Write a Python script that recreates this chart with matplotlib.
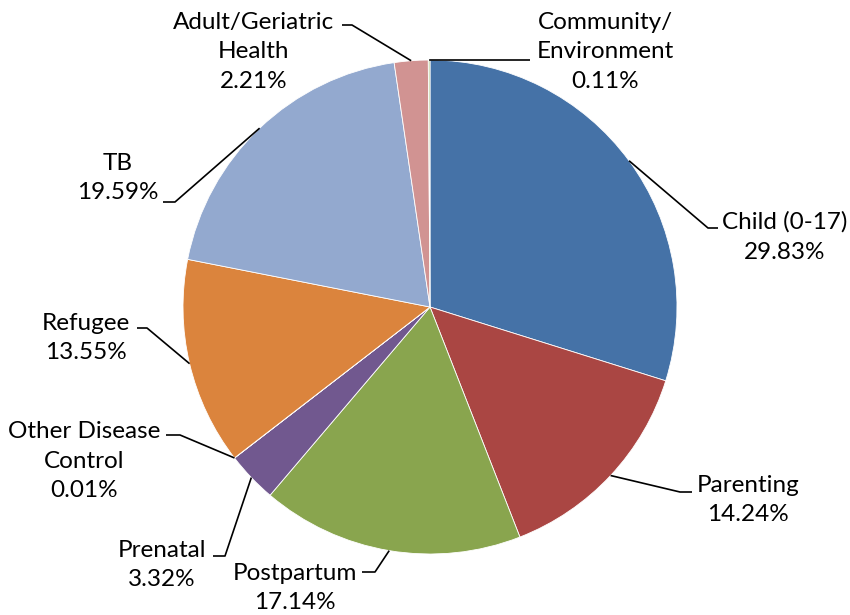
import matplotlib
matplotlib.use("Agg")
import matplotlib.pyplot as plt
import numpy as np

# donnees du camembert (ordre horaire depuis le haut)
categories = ["Child (0-17)", "Parenting", "Postpartum", "Prenatal",
              "Other Disease\nControl", "Refugee", "TB",
              "Adult/Geriatric\nHealth", "Community/\nEnvironment"]
pourcentages = [29.83, 14.24, 17.14, 3.32, 0.01, 13.55, 19.59, 2.21, 0.11]
couleurs = ["#4572A7", "#AA4643", "#89A54E", "#71588F", "#4198AF",
            "#DB843D", "#93A9CF", "#D19392", "#B9CD96"]

W, H = 850, 615
plt.rcParams['font.family'] = ['Lato', 'DejaVu Sans']

fig = plt.figure(figsize=(W / 100, H / 100), dpi=100)
ax = fig.add_axes([0, 0, 1, 1])

cx, cy, r = 430, H - 307, 247
wedges, _ = ax.pie(pourcentages, colors=couleurs, startangle=90, counterclock=False,
                   center=(cx, cy), radius=r,
                   wedgeprops=dict(edgecolor='white', linewidth=0.6))
ax.set_xlim(0, W)
ax.set_ylim(0, H)
ax.set_aspect('equal')
ax.axis('off')

# position des etiquettes (pixels, y vers le bas): texte, coude, fin du trait
etiquettes = [
    ((785, 237), (708, 228), 718),
    ((748, 500), (680, 492), 692),
    ((295, 588), (375, 572), 362),
    ((162, 565), (225, 556), 213),
    ((84, 461), (180, 435), 166),
    ((86, 338), (147, 328), 137),
    ((118, 178), (175, 202), 163),
    ((254, 52), (352, 25), 342),
    ((605, 52), (530, 60), 530),
]

for w, nom, pct, (pos_txt, coude, fin) in zip(wedges, categories, pourcentages, etiquettes):
    ang = np.deg2rad((w.theta1 + w.theta2) / 2)
    x0 = cx + r * np.cos(ang)
    y0 = cy + r * np.sin(ang)
    xs = [x0, coude[0], fin]
    ys = [y0, H - coude[1], H - coude[1]]
    ax.plot(xs, ys, color='black', lw=1.2, solid_capstyle='butt')
    ax.text(pos_txt[0], H - pos_txt[1], f"{nom}\n{pct:.2f}%", ha='center', va='center',
            multialignment='center', fontsize=17.5, linespacing=1.5, color='black')

fig.savefig("out.png", dpi=100)
